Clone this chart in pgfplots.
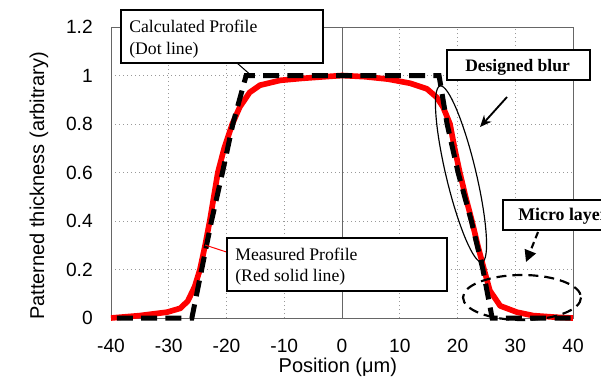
\documentclass[border=0pt]{standalone}
\usepackage{pgfplots}
\pgfplotsset{compat=1.18}
\usepackage{fontspec}
\setmainfont{Liberation Sans}
\newfontfamily\tnr{Liberation Serif}
\usetikzlibrary{arrows.meta}

\pgfplotstableread{
x y
-39 0
-26.0 0
-24.3 0.2
-22.6 0.4
-20.7 0.6
-18.9 0.8
-16.6 1.0
16.8 1.0
18.2 0.8
20.1 0.6
22.4 0.4
24.4 0.2
26.0 0
40 0
}\calc

\pgfplotstableread{
x y
-40 0
-35 0.01
-30.3 0.024
-28 0.04
-26.7 0.07
-25.5 0.13
-24.6 0.2
-23.7 0.3
-22.9 0.4
-22.2 0.5
-21.5 0.6
-20.4 0.7
-19.0 0.8
-17.7 0.87
-16 0.93
-14.2 0.96
-10.7 0.98
-7 0.988
-3 0.995
0 1.0
4 0.995
8 0.985
11.8 0.968
14.7 0.945
16.4 0.91
17.5 0.87
18.7 0.8
19.5 0.7
20.4 0.6
21.4 0.5
22.5 0.4
23.5 0.3
24.6 0.2
25.6 0.113
27.4 0.05
30.3 0.024
33.1 0.01
37.2 0.003
40 0
}\meas

\begin{document}
\begin{tikzpicture}
\path[use as bounding box] (0,0) rectangle (360.6pt,225.6pt);
\clip (0,0) rectangle (360.6pt,225.6pt);
\begin{axis}[
  at={(66.6pt,34.8pt)}, anchor=south west,
  scale only axis, width=277.2pt, height=174.6pt,
  xmin=-40, xmax=40, ymin=0, ymax=1.2,
  xtick={-40,-30,...,40},
  ytick={0,0.2,0.4,0.6,0.8,1,1.2},
  major tick length=0pt,
  grid=major,
  major grid style={gray!80, dotted, line width=0.6pt},
  axis line style={gray!80!black, line width=0.6pt},
  /pgf/number format/assume math mode=true,
  tick label style={font=\fontsize{11.5}{12}\selectfont},
  yticklabel style={inner sep=0pt, xshift=-10.8pt, anchor=east},
  xticklabel style={inner sep=0pt, yshift=-12.2pt, anchor=north},
  xlabel={Position (μm)},
  ylabel={Patterned thickness (arbitrary)},
  label style={font=\fontsize{12}{13}\selectfont},
  xlabel style={at={(rel axis cs:0.491,-0.171)}, anchor=center, inner sep=0pt},
  ylabel style={at={(rel axis cs:-0.156,0.454)}, anchor=center, inner sep=0pt},
  clip=false,
]
\draw[gray!80!black, line width=0.6pt] (axis cs:0,0) -- (axis cs:0,1.2);
\addplot[red, line width=3.4pt, line join=round] table[x=x,y=y] {\meas};
\addplot[black, line width=3pt, dash pattern=on 9.6pt off 5pt] table[x=x,y=y] {\calc};
\end{axis}

\begin{scope}[shift={(0,225.6pt)}, x=0.6pt, y=-0.6pt]
  % Calculated profile box
  \draw[black, line width=0.6pt] (237,63) -- (253,77);
  \draw[black, line width=0.9pt, fill=white] (121,10) rectangle (323,63);
  \node[anchor=base west, inner sep=0pt, font=\tnr\fontsize{10.6}{12}\selectfont] at (129,32.5) {Calculated Profile};
  \node[anchor=base west, inner sep=0pt, font=\tnr\fontsize{10.6}{12}\selectfont] at (129,54.5) {(Dot line)};
  % Measured profile box
  \draw[red, line width=0.6pt] (205,245) -- (228,252.5);
  \draw[black, line width=0.9pt, fill=white] (227,238) rectangle (447,291);
  \node[anchor=base west, inner sep=0pt, font=\tnr\fontsize{10.6}{12}\selectfont] at (235,260) {Measured Profile};
  \node[anchor=base west, inner sep=0pt, font=\tnr\fontsize{10.6}{12}\selectfont] at (235,281.5) {(Red solid line)};
  % Designed blur
  \draw[black, line width=0.7pt, shift={(461,174)}, rotate=-76.6] (0,0) ellipse [x radius=90.5, y radius=15];
  \draw[black, line width=1.2pt, fill=white] (447,50) rectangle (590,80);
  \node[anchor=base, inner sep=0pt, font=\tnr\bfseries\fontsize{10.5}{12}\selectfont] at (517.5,71.5) {Designed blur};
  \draw[black, line width=1.1pt, -{Stealth[length=7pt,width=6pt]}] (507,97) -- (480,127);
  % Micro layer
  \draw[black, line width=1.3pt, dash pattern=on 6pt off 3.6pt] (522,297.5) ellipse [x radius=59, y radius=22.5];
  \draw[black, line width=1.2pt, fill=white] (503,200) rectangle (660,230);
  \node[anchor=base west, inner sep=0pt, font=\tnr\bfseries\fontsize{10.7}{12}\selectfont] at (518,220) {Micro layer};
  \draw[black, line width=1.3pt, dash pattern=on 4pt off 2.5pt, -{Triangle[length=7pt,width=7pt]}] (538,232) -- (526,262);
\end{scope}
\end{tikzpicture}
\end{document}
